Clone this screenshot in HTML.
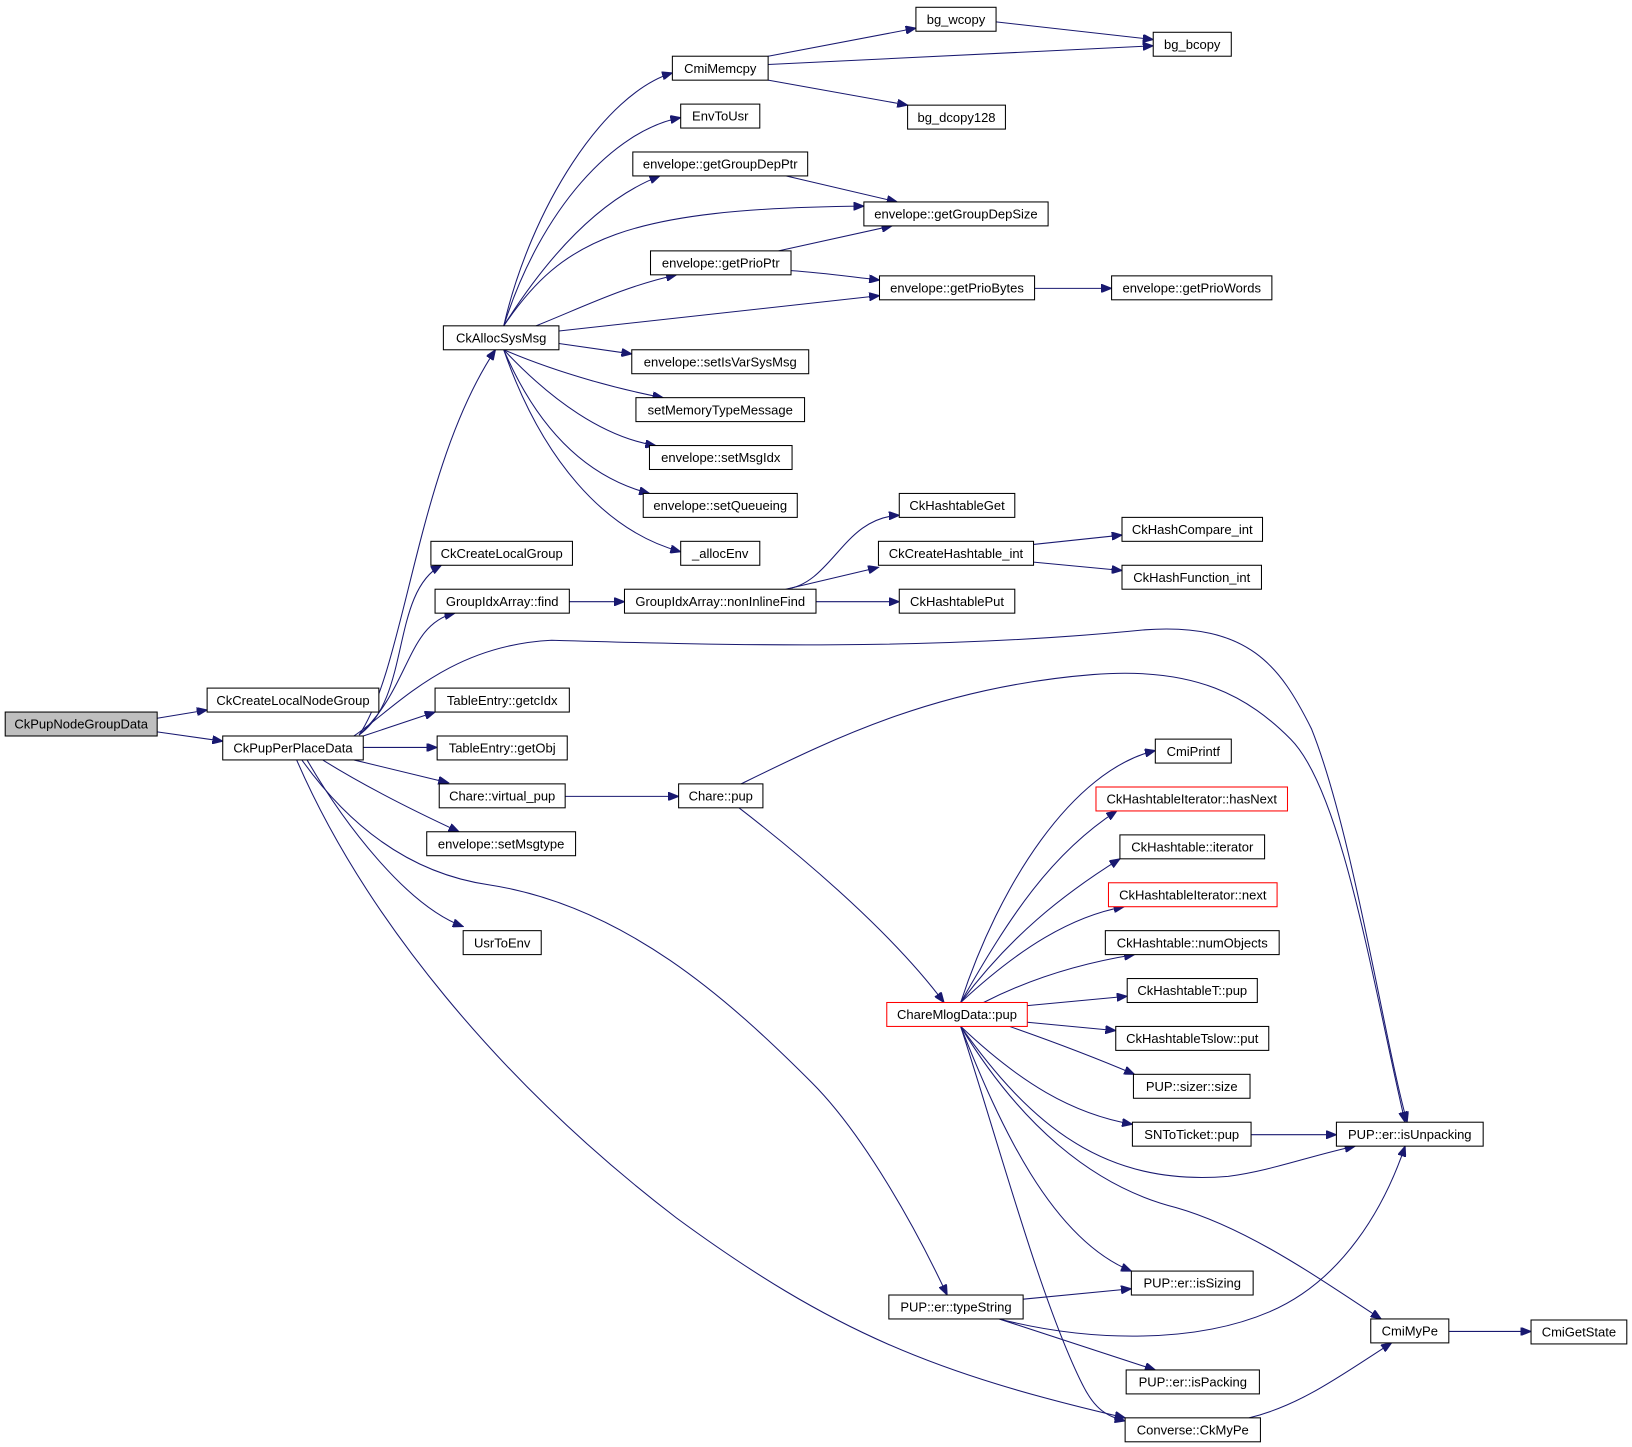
<!DOCTYPE html>
<html><head><meta charset="utf-8"><style>
html,body{margin:0;padding:0;background:#fff;}
svg{display:block;}
text{font-family:"Liberation Sans",sans-serif;font-size:12.5px;fill:#000;}
.e{fill:none;stroke:#191970;stroke-width:1;}
rect{fill:#fff;stroke:#000;stroke-width:1;}
rect.r{stroke:#f00;}
rect.g{fill:#bfbfbf;}
</style></head><body>
<svg width="1632" height="1447" viewBox="0 0 1568 1390" preserveAspectRatio="none" xmlns="http://www.w3.org/2000/svg">
<defs><marker id="a" markerUnits="userSpaceOnUse" markerWidth="11" markerHeight="8" refX="10" refY="4" orient="auto"><path d="M0,0 L10,4 L0,8 z" fill="#191970" stroke="#191970"/></marker></defs>
<g class="e" marker-end="url(#a)">
<path d="M151,690 L199,682"/>
<path d="M151,703 L214,712"/>
<path d="M345,706 C390,640 400,450 476,336"/>
<path d="M345,706 C395,670 375,570 424,543"/>
<path d="M345,706 C395,660 390,600 437,589"/>
<path d="M349,707 L418,684"/>
<path d="M349,718 L420,718"/>
<path d="M340,730 L431,752"/>
<path d="M310,730 C350,755 400,780 441,799"/>
<path d="M295,730 C330,790 390,870 445,890"/>
<path d="M290,730 C340,800 400,840 470,850 C600,870 700,960 780,1040 C830,1090 880,1180 910,1244"/>
<path d="M285,730 C350,880 480,1040 650,1170 C800,1280 900,1320 1081,1362"/>
<path d="M340,707 C380,680 430,620 530,615 C700,620 900,625 1100,605 C1200,598 1230,640 1260,700 C1300,800 1330,1000 1352,1078"/>
<path d="M484,313 C510,200 580,90 646,70"/>
<path d="M484,313 C520,200 590,125 654,113"/>
<path d="M484,313 C530,240 580,190 634,169"/>
<path d="M484,313 C540,230 600,200 830,198"/>
<path d="M515,313 C560,295 600,275 650,264"/>
<path d="M537,318 L845,284"/>
<path d="M537,330 L607,340"/>
<path d="M484,336 C540,360 600,375 637,382"/>
<path d="M484,336 C530,385 580,420 630,428"/>
<path d="M484,336 C520,420 570,460 624,474"/>
<path d="M484,336 C520,440 580,510 654,530"/>
<path d="M738,54 L880,27"/>
<path d="M738,62 L1108,44"/>
<path d="M738,77 L872,101"/>
<path d="M957,21 L1108,38"/>
<path d="M755,169 L862,194"/>
<path d="M748,241 L857,217"/>
<path d="M760,260 C790,262 810,265 845,269"/>
<path d="M994,277 L1068,277"/>
<path d="M547,578 L600,578"/>
<path d="M755,566 C800,560 810,497 864,495"/>
<path d="M755,566 L844,545"/>
<path d="M784,578 L864,578"/>
<path d="M993,523 L1078,514"/>
<path d="M993,540 L1078,548"/>
<path d="M543,765 L652,765"/>
<path d="M712,753 C800,710 900,660 1050,648 C1150,640 1200,670 1240,710 C1290,760 1320,950 1350,1078"/>
<path d="M710,776 C780,830 860,900 907,963"/>
<path d="M923,963 C960,850 1030,740 1110,721"/>
<path d="M923,963 C970,880 1010,820 1073,779"/>
<path d="M923,963 C970,900 1020,860 1076,825"/>
<path d="M923,963 C980,910 1030,880 1080,871"/>
<path d="M945,963 C990,940 1040,925 1090,917"/>
<path d="M987,966 L1083,957"/>
<path d="M987,982 L1072,990"/>
<path d="M970,986 C1010,1000 1050,1015 1090,1032"/>
<path d="M923,986 C980,1040 1030,1070 1088,1080"/>
<path d="M923,986 C990,1080 1060,1140 1180,1130 C1220,1125 1260,1110 1302,1101"/>
<path d="M923,986 C960,1080 1010,1190 1087,1221"/>
<path d="M923,986 C980,1080 1050,1140 1130,1160 C1200,1180 1270,1230 1327,1267"/>
<path d="M923,986 C960,1100 1000,1250 1040,1330 C1050,1350 1060,1360 1081,1365"/>
<path d="M1202,1090 L1284,1090"/>
<path d="M983,1248 L1087,1238"/>
<path d="M960,1267 C1050,1290 1150,1290 1220,1260 C1290,1230 1330,1160 1350,1101"/>
<path d="M960,1267 L1110,1316"/>
<path d="M1200,1362 C1250,1350 1290,1320 1337,1290"/>
<path d="M1392,1279 L1471,1279"/>
</g>
<g>
<rect class="g" x="5" y="684" width="146" height="23"/><text x="78" y="700" text-anchor="middle">CkPupNodeGroupData</text>
<rect x="199" y="661" width="165" height="23"/><text x="281.5" y="677" text-anchor="middle">CkCreateLocalNodeGroup</text>
<rect x="214" y="707" width="135" height="23"/><text x="281.5" y="723" text-anchor="middle">CkPupPerPlaceData</text>
<rect x="426" y="313" width="111" height="23"/><text x="481.5" y="329" text-anchor="middle">CkAllocSysMsg</text>
<rect x="414" y="520" width="136" height="23"/><text x="482" y="536" text-anchor="middle">CkCreateLocalGroup</text>
<rect x="418" y="566" width="129" height="23"/><text x="482.5" y="582" text-anchor="middle">GroupIdxArray::find</text>
<rect x="418" y="661" width="129" height="23"/><text x="482.5" y="677" text-anchor="middle">TableEntry::getcIdx</text>
<rect x="420" y="707" width="125" height="23"/><text x="482.5" y="723" text-anchor="middle">TableEntry::getObj</text>
<rect x="422" y="753" width="121" height="23"/><text x="482.5" y="769" text-anchor="middle">Chare::virtual_pup</text>
<rect x="410" y="799" width="143" height="23"/><text x="481.5" y="815" text-anchor="middle">envelope::setMsgtype</text>
<rect x="445" y="894" width="75" height="23"/><text x="482.5" y="910" text-anchor="middle">UsrToEnv</text>
<rect x="646" y="54" width="92" height="23"/><text x="692" y="70" text-anchor="middle">CmiMemcpy</text>
<rect x="654" y="100" width="76" height="23"/><text x="692" y="116" text-anchor="middle">EnvToUsr</text>
<rect x="608" y="146" width="168" height="23"/><text x="692" y="162" text-anchor="middle">envelope::getGroupDepPtr</text>
<rect x="625" y="241" width="135" height="23"/><text x="692.5" y="257" text-anchor="middle">envelope::getPrioPtr</text>
<rect x="607" y="336" width="170" height="23"/><text x="692" y="352" text-anchor="middle">envelope::setIsVarSysMsg</text>
<rect x="611" y="382" width="162" height="23"/><text x="692" y="398" text-anchor="middle">setMemoryTypeMessage</text>
<rect x="624" y="428" width="137" height="23"/><text x="692.5" y="444" text-anchor="middle">envelope::setMsgIdx</text>
<rect x="618" y="474" width="148" height="23"/><text x="692" y="490" text-anchor="middle">envelope::setQueueing</text>
<rect x="654" y="520" width="76" height="23"/><text x="692" y="536" text-anchor="middle">_allocEnv</text>
<rect x="600" y="566" width="184" height="23"/><text x="692" y="582" text-anchor="middle">GroupIdxArray::nonInlineFind</text>
<rect x="652" y="753" width="81" height="23"/><text x="692.5" y="769" text-anchor="middle">Chare::pup</text>
<rect x="880" y="7" width="77" height="23"/><text x="918.5" y="23" text-anchor="middle">bg_wcopy</text>
<rect x="1108" y="31" width="75" height="23"/><text x="1145.5" y="47" text-anchor="middle">bg_bcopy</text>
<rect x="872" y="101" width="94" height="23"/><text x="919" y="117" text-anchor="middle">bg_dcopy128</text>
<rect x="830" y="194" width="177" height="23"/><text x="918.5" y="210" text-anchor="middle">envelope::getGroupDepSize</text>
<rect x="845" y="265" width="149" height="23"/><text x="919.5" y="281" text-anchor="middle">envelope::getPrioBytes</text>
<rect x="1068" y="265" width="154" height="23"/><text x="1145" y="281" text-anchor="middle">envelope::getPrioWords</text>
<rect x="864" y="474" width="111" height="23"/><text x="919.5" y="490" text-anchor="middle">CkHashtableGet</text>
<rect x="844" y="520" width="149" height="23"/><text x="918.5" y="536" text-anchor="middle">CkCreateHashtable_int</text>
<rect x="864" y="566" width="111" height="23"/><text x="919.5" y="582" text-anchor="middle">CkHashtablePut</text>
<rect x="1078" y="497" width="135" height="23"/><text x="1145.5" y="513" text-anchor="middle">CkHashCompare_int</text>
<rect x="1078" y="543" width="134" height="23"/><text x="1145" y="559" text-anchor="middle">CkHashFunction_int</text>
<rect x="1110" y="710" width="73" height="23"/><text x="1146.5" y="726" text-anchor="middle">CmiPrintf</text>
<rect class="r" x="1053" y="756" width="184" height="23"/><text x="1145" y="772" text-anchor="middle">CkHashtableIterator::hasNext</text>
<rect x="1076" y="802" width="139" height="23"/><text x="1145.5" y="818" text-anchor="middle">CkHashtable::iterator</text>
<rect class="r" x="1065" y="848" width="162" height="23"/><text x="1146" y="864" text-anchor="middle">CkHashtableIterator::next</text>
<rect x="1062" y="894" width="167" height="23"/><text x="1145.5" y="910" text-anchor="middle">CkHashtable::numObjects</text>
<rect x="1083" y="940" width="125" height="23"/><text x="1145.5" y="956" text-anchor="middle">CkHashtableT::pup</text>
<rect x="1072" y="986" width="147" height="23"/><text x="1145.5" y="1002" text-anchor="middle">CkHashtableTslow::put</text>
<rect x="1089" y="1032" width="112" height="23"/><text x="1145" y="1048" text-anchor="middle">PUP::sizer::size</text>
<rect x="1088" y="1078" width="114" height="23"/><text x="1145" y="1094" text-anchor="middle">SNToTicket::pup</text>
<rect x="1284" y="1078" width="141" height="23"/><text x="1354.5" y="1094" text-anchor="middle">PUP::er::isUnpacking</text>
<rect class="r" x="852" y="963" width="135" height="23"/><text x="919.5" y="979" text-anchor="middle">ChareMlogData::pup</text>
<rect x="1087" y="1221" width="117" height="23"/><text x="1145.5" y="1237" text-anchor="middle">PUP::er::isSizing</text>
<rect x="854" y="1244" width="129" height="23"/><text x="918.5" y="1260" text-anchor="middle">PUP::er::typeString</text>
<rect x="1317" y="1267" width="75" height="23"/><text x="1354.5" y="1283" text-anchor="middle">CmiMyPe</text>
<rect x="1471" y="1268" width="92" height="23"/><text x="1517" y="1284" text-anchor="middle">CmiGetState</text>
<rect x="1082" y="1316" width="128" height="23"/><text x="1146" y="1332" text-anchor="middle">PUP::er::isPacking</text>
<rect x="1081" y="1362" width="130" height="23"/><text x="1146" y="1378" text-anchor="middle">Converse::CkMyPe</text>
</g>
</svg>
</body></html>
